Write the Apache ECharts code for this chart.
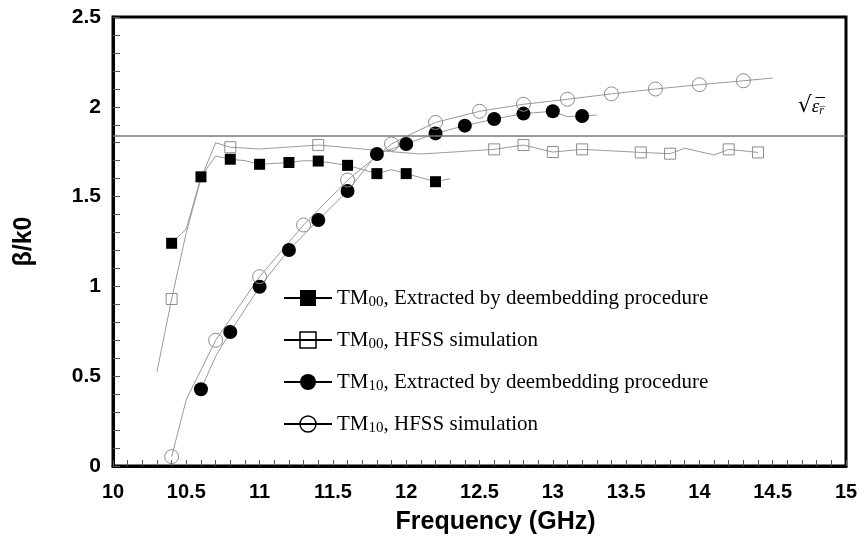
<!DOCTYPE html>
<html>
<head>
<meta charset="utf-8">
<script src="https://cdn.jsdelivr.net/npm/echarts@6/dist/echarts.min.js"></script>
<style>
  html, body { margin: 0; padding: 0; background: #fff; }
  #main { width: 864px; height: 541px; }
</style>
</head>
<body>
<div id="main"></div>
<script>
// legend names
var names = [
  '{n|TM}{s|00}{n|, Extracted by deembedding procedure}',
  '{n|TM}{s|00}{n|, HFSS simulation}',
  '{n|TM}{s|10}{n|, Extracted by deembedding procedure}',
  '{n|TM}{s|10}{n|, HFSS simulation}'
];
var seriesNames = ['tm00Ext', 'tm00Hfss', 'tm10Ext', 'tm10Hfss'];

// marker points [GHz, beta/k0]
var tm00ExtPts = [[10.4,1.24],[10.6,1.61],[10.8,1.708],[11.0,1.68],[11.2,1.69],[11.4,1.698],[11.6,1.674],[11.8,1.628],[12.0,1.628],[12.2,1.583]];
var tm00HfssPts = [[10.4,0.93],[10.8,1.775],[11.4,1.787],[12.6,1.763],[12.8,1.787],[13.0,1.748],[13.2,1.763],[13.6,1.746],[13.8,1.739],[14.2,1.763],[14.4,1.746]];
var tm10ExtPts = [[10.6,0.427],[10.8,0.746],[11.0,0.998],[11.2,1.203],[11.4,1.37],[11.6,1.531],[11.8,1.737],[12.0,1.793],[12.2,1.852],[12.4,1.895],[12.6,1.932],[12.8,1.962],[13.0,1.975],[13.2,1.949]];
var tm10HfssPts = [[10.4,0.052],[10.7,0.70],[11.0,1.054],[11.3,1.342],[11.6,1.592],[11.9,1.793],[12.2,1.913],[12.5,1.975],[12.8,2.014],[13.1,2.042],[13.4,2.072],[13.7,2.099],[14.0,2.123],[14.3,2.145]];

// thin gray curves (more vertices than markers)
var tm00ExtLine = [[10.4,1.24],[10.5,1.32],[10.6,1.61],[10.7,1.726],[10.8,1.708],[10.9,1.70],[11.0,1.68],[11.2,1.69],[11.3,1.70],[11.4,1.698],[11.6,1.674],[11.8,1.628],[11.9,1.65],[12.0,1.628],[12.2,1.583],[12.3,1.60]];
var tm00HfssLine = [[10.3,0.525],[10.4,0.93],[10.5,1.30],[10.6,1.60],[10.7,1.80],[10.8,1.775],[11.0,1.765],[11.4,1.787],[11.5,1.78],[11.9,1.75],[12.1,1.737],[12.6,1.763],[12.8,1.787],[13.0,1.748],[13.2,1.763],[13.6,1.746],[13.8,1.739],[13.9,1.769],[14.1,1.732],[14.2,1.763],[14.4,1.746]];
var tm10ExtLine = [[10.6,0.427],[10.7,0.61],[10.8,0.746],[11.0,0.998],[11.2,1.203],[11.4,1.37],[11.6,1.531],[11.8,1.737],[12.0,1.793],[12.2,1.852],[12.4,1.895],[12.6,1.932],[12.8,1.962],[13.0,1.975],[13.1,1.945],[13.2,1.949],[13.3,1.954]];
var tm10HfssLine = [[10.4,0.052],[10.5,0.37],[10.7,0.70],[11.0,1.054],[11.3,1.342],[11.6,1.592],[11.9,1.793],[12.0,1.835],[12.2,1.913],[12.5,1.975],[12.8,2.014],[13.1,2.042],[13.4,2.072],[13.7,2.099],[14.0,2.123],[14.3,2.145],[14.5,2.16]];

var sqrtEr = 1.843;

var myChart = echarts.init(document.getElementById('main'));

function curve(data) {
  return {
    type: 'line',
    data: data,
    symbol: 'none',
    silent: true,
    z: 2,
    lineStyle: { color: '#9a9a9a', width: 1 }
  };
}
function marks(name, data, symbol, size, filled) {
  return {
    type: 'line',
    name: name,
    data: data,
    symbol: symbol,
    symbolSize: size,
    showSymbol: true,
    z: 3,
    lineStyle: { opacity: 0, width: 0 },
    itemStyle: filled ? { color: '#000', borderWidth: 0 }
                      : { color: 'rgba(0,0,0,0)', borderColor: '#8c8c8c', borderWidth: 1 }
  };
}

var option = {
  animation: false,
  backgroundColor: '#fff',
  grid: {
    left: 113, right: 18, top: 17, bottom: 75,
    show: true, borderColor: '#000', borderWidth: 3
  },
  legend: {
    orient: 'vertical',
    left: 283,
    top: 286,
    padding: 0,
    itemWidth: 48,
    itemHeight: 20,
    itemGap: 18,
    data: [
      { name: seriesNames[0], itemStyle: { color: '#000', borderWidth: 0 } },
      { name: seriesNames[1], itemStyle: { color: 'rgba(0,0,0,0)', borderColor: '#000', borderWidth: 1.5 } },
      { name: seriesNames[2], itemStyle: { color: '#000', borderWidth: 0 } },
      { name: seriesNames[3], itemStyle: { color: 'rgba(0,0,0,0)', borderColor: '#000', borderWidth: 1.5 } }
    ],
    lineStyle: { color: '#000', width: 2, opacity: 1 },
    formatter: function (n) { return names[seriesNames.indexOf(n)]; },
    textStyle: {
      rich: {
        n: { fontFamily: 'Liberation Serif', fontSize: 21, color: '#000', lineHeight: 22 },
        s: { fontFamily: 'Liberation Serif', fontSize: 15, color: '#000', lineHeight: 22, padding: [9, 0, 0, 0] }
      }
    }
  },
  xAxis: {
    type: 'value',
    min: 10, max: 15, interval: 0.5,
    name: 'Frequency (GHz)',
    nameLocation: 'middle',
    nameGap: 44,
    nameTextStyle: { fontFamily: 'Liberation Sans', fontWeight: 'bold', fontSize: 25, color: '#000', padding: [0, 0, 0, 32] },
    axisLine: { onZero: false, lineStyle: { color: '#000', width: 3 } },
    axisTick: { inside: true, length: 6, lineStyle: { color: '#555', width: 1 } },
    minorTick: { show: true, splitNumber: 5, length: 6, lineStyle: { color: '#555', width: 1 } },
    splitLine: { show: false },
    axisLabel: { margin: 16, fontFamily: 'Liberation Sans', fontWeight: 'bold', fontSize: 20, color: '#000' }
  },
  yAxis: {
    type: 'value',
    min: 0, max: 2.5, interval: 0.5,
    name: 'β/k0',
    nameLocation: 'middle',
    nameGap: 76,
    nameTextStyle: { fontFamily: 'Liberation Sans', fontWeight: 'bold', fontSize: 25, color: '#000' },
    axisLine: { onZero: false, lineStyle: { color: '#000', width: 3 } },
    axisTick: { inside: true, length: 7, lineStyle: { color: '#555', width: 1 } },
    minorTick: { show: true, splitNumber: 5, length: 7, lineStyle: { color: '#555', width: 1 } },
    splitLine: { show: false },
    axisLabel: { margin: 12, fontFamily: 'Liberation Sans', fontWeight: 'bold', fontSize: 21, color: '#000' }
  },
  series: [
    curve(tm00ExtLine),
    curve(tm00HfssLine),
    curve(tm10ExtLine),
    curve(tm10HfssLine),
    marks(seriesNames[0], tm00ExtPts, 'rect', 11, true),
    marks(seriesNames[1], tm00HfssPts, 'rect', 11, false),
    marks(seriesNames[2], tm10ExtPts, 'circle', 14, true),
    marks(seriesNames[3], tm10HfssPts, 'circle', 14, false)
  ]
};
option.series[0].markLine = {
  silent: true,
  symbol: 'none',
  lineStyle: { color: '#777', width: 1.5, type: 'solid' },
  label: {
    position: 'insideEndTop',
    distance: [22, 18],
    formatter: '{r|√}{e|ε\u0305}{s|r\u0305}',
    rich: {
      r: { fontFamily: 'DejaVu Serif', fontSize: 22, color: '#000' },
      e: { fontFamily: 'Liberation Serif', fontStyle: 'italic', fontSize: 19, color: '#000' },
      s: { fontFamily: 'Liberation Serif', fontStyle: 'italic', fontSize: 12, color: '#000', padding: [8, 0, 0, 0] }
    }
  },
  data: [{ yAxis: sqrtEr }]
};
myChart.setOption(option);
</script>
</body>
</html>
